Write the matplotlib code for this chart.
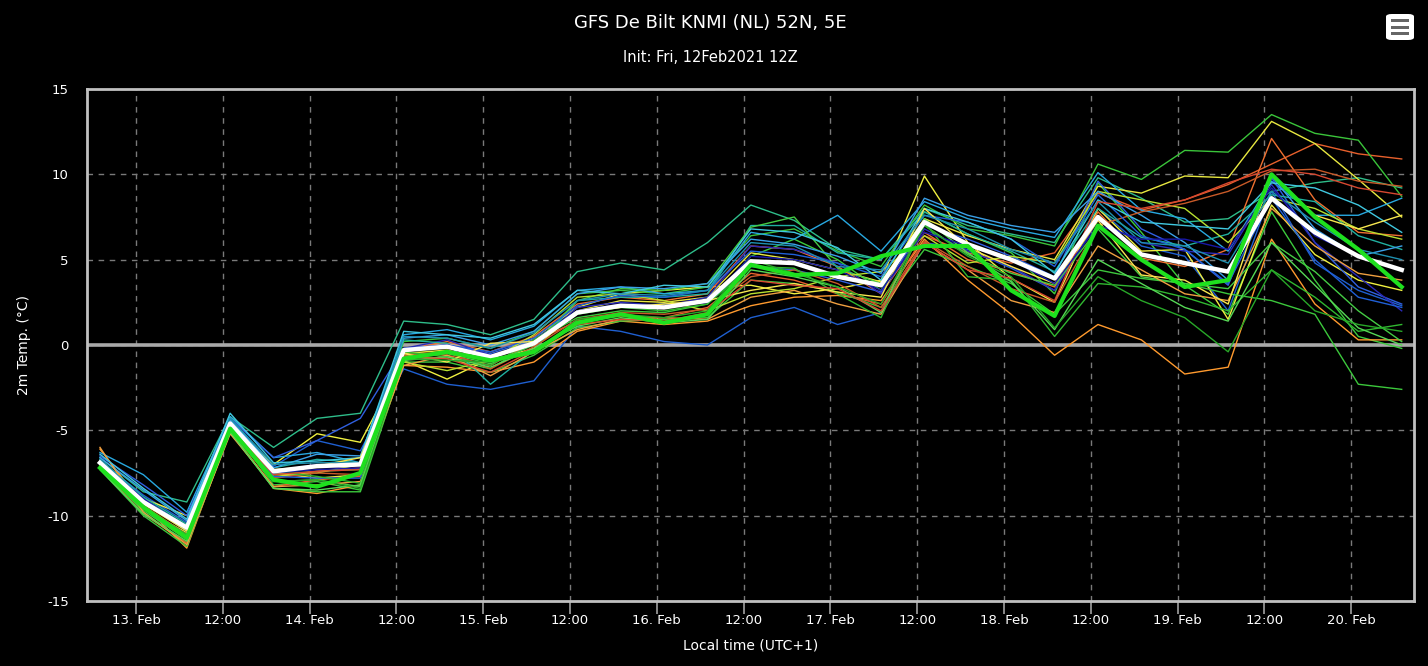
import numpy as np
import pandas as pd
import matplotlib
matplotlib.use("Agg")
import matplotlib.pyplot as plt
import matplotlib.dates as mdates
from matplotlib.patches import FancyBboxPatch, Rectangle

plt.rcParams["axes.unicode_minus"] = False

# forecast steps, every 6 h from init 12Feb2021 12Z (local = UTC+1)
times = pd.date_range("2021-02-12 19:00", periods=31, freq="6h")

# ensemble mean (white) and control run (thick green)
mean_run = [-6.9, -9.2, -10.7, -4.6, -7.4, -7.1, -7.0, -0.3, -0.1, -0.7, 0.1, 1.9, 2.3, 2.2, 2.6, 4.9,
            4.8, 4.0, 3.5, 7.2, 5.9, 5.0, 3.9, 7.5, 5.3, 4.8, 4.3, 8.6, 6.6, 5.2, 4.4]
control_run = [-7.2, -9.5, -11.3, -4.9, -7.9, -8.3, -7.5, -0.8, -0.4, -0.9, -0.4, 1.3, 1.8, 1.3, 1.8, 4.7,
               4.1, 4.2, 5.2, 5.8, 5.8, 3.2, 1.7, 7.0, 5.0, 3.4, 3.8, 10.0, 7.5, 5.6, 3.4]

# perturbed members
members = [
    [-7.0, -9.8, -11.6, -4.8, -8.2, -8.0, -8.5, -0.6, -0.8, -1.4, 0.2, 1.6, 2.0, 1.9, 2.4, 5.2, 6.2, 5.0, 3.2, 7.8, 6.5, 5.4, 3.0, 9.5, 6.6, 3.5, 1.8, 7.8, 3.8, 0.5, -0.2],
    [-6.6, -8.6, -9.2, -4.2, -6.0, -4.3, -4.0, 1.4, 1.2, 0.6, 1.5, 4.3, 4.8, 4.4, 6.0, 8.2, 7.3, 5.6, 5.0, 8.0, 7.0, 6.5, 6.0, 9.8, 8.6, 7.2, 7.4, 9.0, 9.5, 9.8, 9.2],
    [-6.8, -8.8, -10.4, -4.4, -7.1, -5.6, -6.2, -1.4, -2.3, -2.6, -2.1, 1.1, 0.8, 0.2, 0.0, 1.6, 2.2, 1.2, 1.9, 6.0, 5.6, 4.5, 3.2, 8.0, 5.8, 5.2, 2.0, 9.0, 4.8, 3.2, 2.3],
    [-6.9, -9.0, -10.0, -4.7, -7.0, -5.2, -5.7, -0.9, -2.0, -0.8, 0.4, 2.2, 3.0, 3.2, 3.4, 3.5, 3.0, 3.3, 3.8, 9.9, 6.0, 3.9, 2.5, 8.0, 5.5, 5.6, 1.5, 8.2, 5.3, 3.8, 3.2],
    [-6.1, -9.4, -11.9, -5.0, -8.4, -8.7, -8.2, -1.2, -1.3, -1.6, -1.0, 0.8, 1.4, 1.2, 1.4, 2.3, 2.8, 2.9, 2.6, 6.2, 3.8, 1.8, -0.6, 1.2, 0.3, -1.7, -1.3, 6.2, 2.4, 0.3, 0.3],
    [-7.2, -9.9, -11.6, -5.1, -8.3, -7.9, -7.7, -0.4, -0.6, -1.2, 0.2, 1.4, 1.7, 1.6, 2.2, 4.2, 3.8, 3.0, 2.4, 6.4, 5.4, 4.8, 5.4, 8.9, 7.9, 8.5, 9.4, 10.6, 11.8, 11.2, 10.9],
    [-6.9, -9.3, -10.8, -4.5, -7.6, -7.4, -7.3, 0.2, 0.4, -0.2, 0.8, 3.0, 3.2, 3.0, 3.4, 6.4, 6.8, 5.5, 4.6, 8.2, 6.8, 6.4, 5.8, 10.6, 9.7, 11.4, 11.3, 13.5, 12.4, 12.0, 8.7],
    [-7.1, -9.6, -11.0, -4.8, -7.5, -7.8, -7.6, -0.5, -0.3, -0.9, -0.2, 2.0, 2.6, 2.5, 2.8, 5.4, 5.0, 4.4, 3.7, 7.4, 6.4, 5.6, 5.0, 9.3, 8.9, 9.9, 9.8, 13.1, 11.8, 9.7, 7.5],
    [-7.0, -9.5, -11.2, -4.6, -7.8, -7.4, -7.2, -0.3, 0.2, -0.4, 0.5, 2.4, 2.8, 2.6, 3.0, 5.8, 5.6, 4.6, 3.0, 6.6, 5.0, 4.3, 3.4, 7.8, 5.1, 4.6, 5.6, 12.1, 8.5, 6.6, 6.4],
    [-7.3, -10.0, -11.8, -5.1, -8.4, -8.6, -8.6, -1.0, -1.0, -1.6, -0.6, 1.0, 1.4, 1.5, 1.6, 3.8, 3.6, 3.1, 2.2, 5.6, 4.6, 3.6, 1.8, 4.4, 3.9, 3.6, 3.0, 2.6, 1.8, -2.3, -2.6],
    [-6.3, -7.6, -9.8, -4.2, -6.6, -6.3, -6.9, 0.6, 0.9, 0.3, 1.1, 3.2, 3.4, 3.0, 3.2, 6.6, 6.2, 7.6, 5.5, 8.4, 7.4, 6.8, 6.3, 10.1, 7.9, 7.4, 5.5, 9.6, 7.6, 7.6, 8.6],
    [-6.5, -8.2, -10.0, -4.3, -6.6, -5.6, -4.3, -0.2, 0.0, -0.5, 0.3, 2.0, 2.3, 2.4, 2.5, 4.6, 4.4, 3.8, 3.1, 7.0, 6.2, 5.2, 4.0, 9.6, 6.8, 5.6, 3.5, 9.8, 6.0, 3.4, 2.4],
    [-6.8, -9.2, -10.9, -4.7, -7.4, -7.0, -7.3, -0.2, 0.3, -0.6, 0.0, 2.2, 2.5, 2.3, 2.8, 5.8, 5.6, 4.8, 3.0, 6.8, 5.5, 4.6, 3.2, 7.3, 6.0, 5.5, 5.3, 9.4, 6.0, 4.0, 2.0],
    [-6.7, -8.9, -10.5, -4.3, -7.2, -6.7, -6.9, 0.3, 0.1, -2.3, -0.3, 2.6, 2.8, 2.8, 3.0, 7.0, 7.0, 5.4, 5.0, 7.8, 6.5, 5.5, 4.3, 8.0, 6.3, 5.8, 6.5, 8.8, 8.4, 6.4, 5.6],
    [-7.2, -9.7, -11.4, -5.0, -8.0, -7.9, -8.3, -0.7, -0.5, -1.1, 0.0, 2.6, 3.3, 3.2, 3.6, 6.9, 7.5, 4.5, 3.6, 7.0, 5.3, 4.2, 3.5, 6.8, 4.0, 3.6, 3.3, 6.0, 4.3, 2.0, 0.2],
    [-6.9, -9.1, -10.6, -4.6, -7.7, -7.5, -7.0, -1.0, -1.5, -0.9, 0.6, 2.8, 3.0, 2.6, 2.0, 3.0, 3.3, 4.0, 4.3, 6.4, 4.8, 5.2, 4.8, 9.0, 8.5, 8.0, 6.0, 8.6, 8.0, 6.8, 6.2],
    [-6.6, -8.5, -10.3, -4.4, -7.2, -6.4, -6.5, 0.4, 0.6, 0.0, 0.8, 3.0, 3.4, 3.3, 3.6, 6.2, 5.9, 5.2, 4.2, 8.6, 7.6, 7.0, 6.6, 9.0, 7.6, 6.0, 3.8, 9.9, 6.8, 5.2, 5.8],
    [-6.0, -9.8, -11.7, -5.2, -8.3, -8.2, -8.0, -1.2, -0.6, -1.8, -0.4, 0.9, 1.5, 1.6, 1.5, 2.8, 3.2, 2.4, 1.8, 6.0, 4.4, 2.6, 1.9, 5.8, 4.4, 3.0, 2.6, 8.0, 5.8, 4.2, 3.8],
    [-7.0, -9.4, -11.1, -4.9, -7.8, -7.5, -7.6, -0.6, -0.4, -1.4, -0.1, 1.5, 1.9, 1.8, 2.1, 4.0, 4.4, 3.6, 2.2, 6.1, 4.6, 3.3, 2.5, 7.0, 7.8, 8.3, 9.0, 10.2, 10.3, 9.6, 9.3],
    [-6.8, -9.2, -10.9, -4.5, -7.7, -7.8, -7.8, -0.2, 0.0, -0.4, 0.4, 2.3, 2.9, 2.8, 3.2, 5.5, 5.3, 4.8, 4.0, 7.6, 7.2, 6.2, 4.6, 8.8, 6.4, 5.6, 3.6, 8.6, 5.0, 2.8, 2.2],
    [-7.1, -9.5, -11.1, -4.8, -7.4, -7.7, -8.1, -0.4, -0.7, -1.2, 0.3, 1.8, 2.2, 2.0, 2.4, 4.6, 4.5, 3.0, 1.6, 7.2, 4.0, 3.8, 0.5, 3.6, 3.4, 2.8, 2.0, 4.4, 2.8, 0.8, 1.2],
    [-6.4, -8.4, -10.2, -4.0, -6.9, -6.8, -6.6, 0.8, 0.6, 0.4, 1.2, 3.2, 3.0, 3.5, 3.4, 6.8, 6.6, 5.7, 3.8, 8.0, 7.2, 6.2, 4.2, 8.5, 7.2, 7.0, 6.8, 9.5, 9.2, 8.2, 6.6],
    [-7.0, -9.3, -10.9, -4.6, -7.3, -7.1, -6.6, -0.5, -1.0, 0.1, 0.2, 1.9, 2.2, 2.4, 2.6, 3.2, 3.6, 3.1, 2.8, 8.0, 5.7, 4.6, 3.6, 7.3, 4.1, 3.8, 2.4, 10.0, 7.6, 6.8, 7.6],
    [-6.7, -9.0, -10.6, -4.3, -7.0, -6.9, -6.9, 0.5, 0.4, -0.2, 0.7, 2.6, 3.0, 2.9, 3.2, 6.0, 5.8, 4.6, 4.4, 7.6, 6.8, 5.6, 4.8, 8.4, 6.0, 5.8, 4.8, 9.0, 7.2, 5.6, 5.0],
    [-7.3, -9.9, -11.5, -5.1, -8.4, -8.5, -8.2, -0.9, -0.7, -1.3, -0.2, 1.1, 1.6, 1.3, 1.5, 4.4, 4.0, 3.4, 1.9, 7.4, 5.4, 3.7, 0.9, 5.0, 3.6, 2.2, 1.4, 6.0, 3.5, 1.0, 0.0],
    [-6.9, -9.4, -11.3, -4.8, -7.6, -7.4, -7.3, -0.7, -0.8, -1.6, -0.3, 1.2, 1.5, 1.4, 1.9, 3.8, 3.5, 3.3, 2.0, 6.0, 4.4, 3.9, 2.6, 8.4, 8.0, 8.5, 9.5, 10.3, 10.0, 9.2, 8.8],
    [-6.9, -9.0, -10.7, -4.6, -7.5, -7.3, -7.2, -0.3, 0.0, -0.6, 0.1, 2.0, 2.4, 2.2, 2.5, 5.2, 5.0, 4.4, 3.2, 6.6, 5.8, 5.0, 3.6, 7.0, 6.2, 6.2, 5.6, 9.2, 6.4, 5.2, 4.4],
    [-7.2, -9.6, -11.2, -4.9, -8.0, -7.9, -8.4, -0.8, -0.9, -1.0, -0.5, 1.5, 1.8, 1.6, 2.0, 5.0, 4.2, 3.4, 2.4, 7.0, 5.2, 4.0, 1.0, 4.0, 2.6, 1.6, -0.4, 4.4, 2.0, 1.2, 0.8],
]
member_colors = ["#3ccc3c", "#2ebd8a", "#1f5fd0", "#f0f040", "#ff9a2e", "#e8602c", "#3ac43a",
                 "#e8e840", "#f07030", "#3cc83c", "#28a8e0", "#3060e0", "#2a2ab8", "#20b0a0",
                 "#44cc44", "#b8e030", "#3aa0e8", "#f0a040", "#c85a28", "#2060d8", "#30b830",
                 "#40c8e0", "#f8e850", "#1e90b0", "#56d856", "#d84830", "#1818a8", "#28a828"]

title = "GFS De Bilt KNMI (NL) 52N, 5E"
subtitle = "Init: Fri, 12Feb2021 12Z"
y_ticks = [-15, -10, -5, 0, 5, 10, 15]

fig = plt.figure(figsize=(14.28, 6.66), dpi=100, facecolor="black")
ax = fig.add_axes([0.0609, 0.0976, 0.9293, 0.7688], facecolor="black")

for vals, col in zip(members, member_colors):
    ax.plot(times, vals, color=col, lw=1.0, zorder=3)
ax.plot(times, mean_run, color="white", lw=3.2, zorder=4)
ax.plot(times, control_run, color="#1ee01e", lw=3.0, zorder=5)

ax.axhline(0, color="#a8a8a8", lw=2.6, zorder=2)

ax.set_ylim(-15, 15)
ax.set_yticks(y_ticks)
ax.set_xlim(pd.Timestamp("2021-02-12 17:12"), pd.Timestamp("2021-02-20 08:42"))
ax.xaxis.set_major_locator(mdates.HourLocator(byhour=[0, 12]))


def fmt_time(x, pos=None):
    d = mdates.num2date(x)
    if d.hour == 0:
        return d.strftime("%d. %b").lstrip("0")
    return d.strftime("%H:%M")


ax.xaxis.set_major_formatter(plt.FuncFormatter(fmt_time))
ax.grid(True, color="#7a7a7a", lw=1.0, ls=(0, (4, 4)), zorder=1)
ax.tick_params(axis="x", colors="#a0a0a0", length=9, width=1.2, labelcolor="white",
               labelsize=9.5, pad=0.5)
ax.tick_params(axis="y", length=0, labelcolor="white", labelsize=9.5, pad=13)
for sp in ax.spines.values():
    sp.set_color("#c0c0c0")
    sp.set_linewidth(2)

ax.set_ylabel("2m Temp. (°C)", color="white", fontsize=10)
ax.yaxis.set_label_coords(-0.0425, 0.5)
ax.set_xlabel("Local time (UTC+1)", color="white", fontsize=10, labelpad=8)

fig.text(0.4972, 0.966, title, color="white", fontsize=13, ha="center", va="center")
fig.text(0.4972, 0.913, subtitle, color="white", fontsize=10.5, ha="center", va="center")

# export menu button
btn = FancyBboxPatch((1386 / 1428, 1 - 40 / 666), 28 / 1428, 26 / 666,
                     boxstyle="round,pad=0,rounding_size=0.004", transform=fig.transFigure,
                     facecolor="white", edgecolor="none")
fig.patches.append(btn)
for yy in (20, 27, 33):
    fig.patches.append(Rectangle((1391 / 1428, 1 - (yy + 1.5) / 666), 18 / 1428, 3 / 666,
                                 transform=fig.transFigure, facecolor="#666666", edgecolor="none"))

fig.savefig("out.png", dpi=100, facecolor="black")
